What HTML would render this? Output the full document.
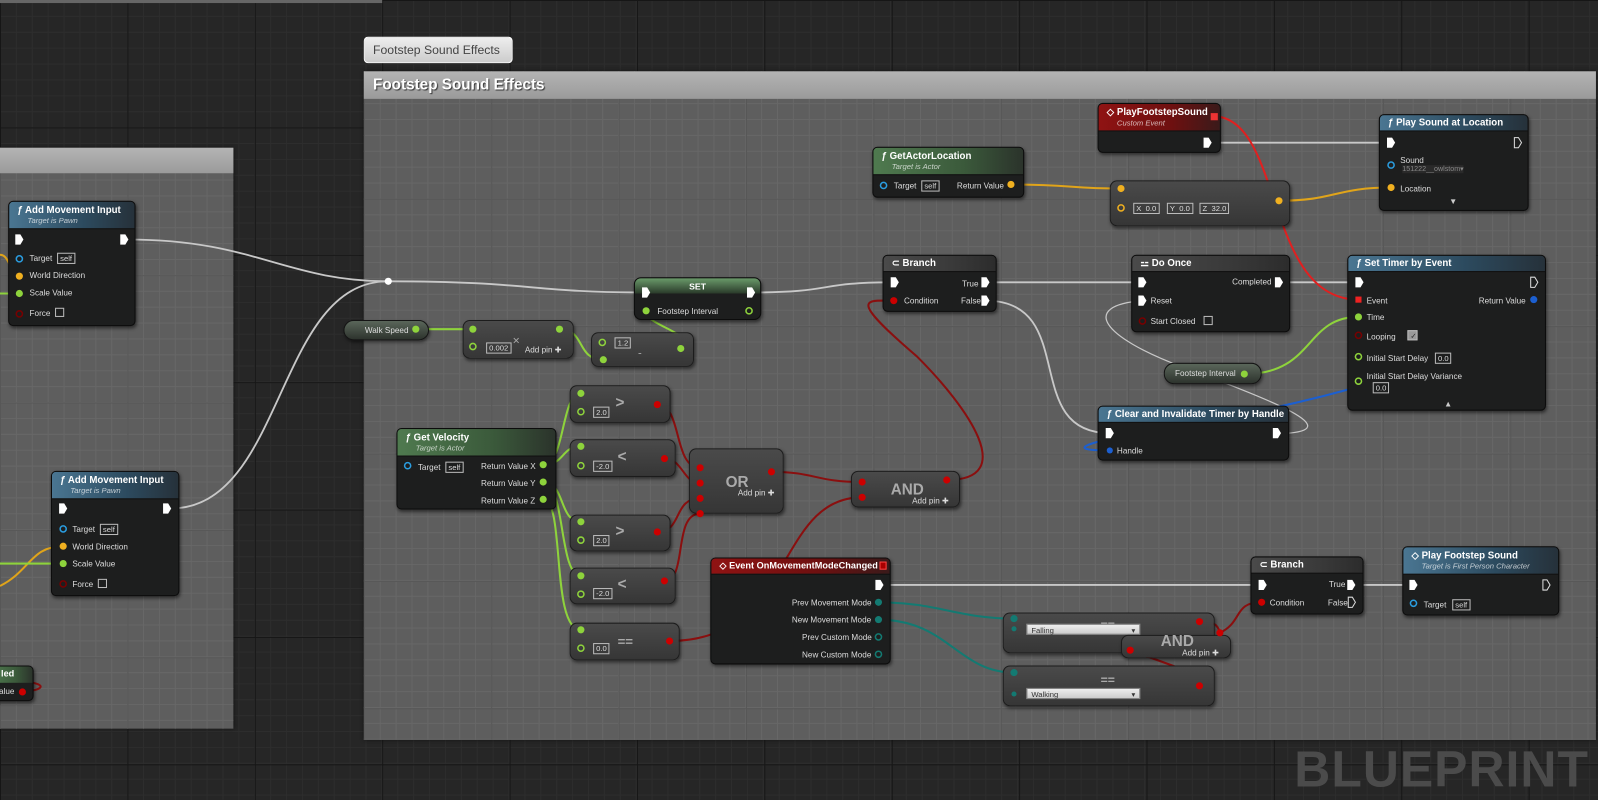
<!DOCTYPE html>
<html><head><meta charset="utf-8"><style>
*{margin:0;padding:0;box-sizing:border-box}
html,body{width:1598px;height:800px;overflow:hidden;background:#262626;font-family:"Liberation Sans",sans-serif}
#w{position:absolute;left:0;top:0;width:1568px;height:785px;transform:scale(1.0191);transform-origin:0 0;
background:
linear-gradient(90deg,#161616 1px,transparent 1px) 0 0/125px 125px,
linear-gradient(#161616 1px,transparent 1px) 0 0/125px 125px,
linear-gradient(90deg,#2d2d2d 1px,transparent 1px) 0 0/15.6px 15.6px,
linear-gradient(#2d2d2d 1px,transparent 1px) 0 0/15.6px 15.6px,#262626}
.c{position:absolute;background:
linear-gradient(90deg,#575757 1px,transparent 1px) 0 0/125px 125px,
linear-gradient(#575757 1px,transparent 1px) 0 0/125px 125px,
linear-gradient(90deg,#676767 1px,transparent 1px) 0 0/15.6px 15.6px,
linear-gradient(#676767 1px,transparent 1px) 0 0/15.6px 15.6px,#5e5e5e;box-shadow:0 0 4px #111}
.ch{position:absolute;left:0;right:0;top:0;height:25px;background:linear-gradient(#b4b4b4,#9a9a9a);color:#fff;font-weight:bold;font-size:15px;padding:4px 9px;text-shadow:1px 1px 1px #333}
.n{position:absolute;background:#1d1e1e;border:1px solid #0c0c0c;border-radius:5px;box-shadow:1px 2px 3px rgba(0,0,0,.5);color:#ddd;font-size:8px;overflow:hidden}
.h{height:27px;padding:3px 0 0 8px;color:#fff;font-size:9.5px;font-weight:bold;border-bottom:1px solid #111}
.h i{display:block;font-weight:normal;font-size:7.5px;padding-left:10px;opacity:.7}
.fb{background:linear-gradient(90deg,#4a7692,#2c4a5e 60%,#26313a)}
.fg{background:linear-gradient(90deg,#4f7a4f,#3b5a3b 60%,#2b332b)}
.fr{background:linear-gradient(90deg,#8f1313,#6e1010 60%,#3a1a1a)}
.fk{background:linear-gradient(90deg,#4a4a4a,#3a3a3a 60%,#2c2c2c)}
.g{position:absolute;background:linear-gradient(#4a4a4a,#363636);border:1px solid #1c1c1c;border-radius:7px;box-shadow:1px 2px 3px rgba(0,0,0,.5);color:#bbb}
.v{position:absolute;background:linear-gradient(#5a665a,#2d332d);border:1px solid #141414;border-radius:10px;color:#ddd;font-size:8px;padding:5px 0 0 20px;box-shadow:1px 2px 3px rgba(0,0,0,.5)}
.t{position:absolute;font-size:8px;color:#ddd;white-space:nowrap}
.b{position:absolute;border:1px solid #bbb;font-size:7.5px;color:#ddd;padding:0 2px;line-height:9px;white-space:nowrap}
.big{position:absolute;font-size:15px;font-weight:bold;color:#aaa}
.dd{position:absolute;background:linear-gradient(#eee,#ccc);color:#333;font-size:7.5px;height:11px;padding:1px 4px;border:1px solid #888}
</style></head><body><div id="w">
<div style="position:absolute;left:0;top:0;width:375px;height:3px;background:#666"></div>
<div class="c" style="left:0;top:145px;width:229px;height:570px"><div class="ch" style="height:25px"></div></div>
<div class="c" style="left:357px;top:70px;width:1209px;height:656px"><div class="ch" style="height:27px;padding-top:5px">Footstep Sound Effects</div></div>
<div style="position:absolute;left:357px;top:36px;width:146px;height:26px;background:linear-gradient(#eee,#ccc);border-radius:4px;border:1px solid #fff;color:#444;font-size:12px;padding:5px 8px">Footstep Sound Effects</div>
<div style="position:absolute;left:1270px;top:726px;font-size:50px;font-weight:bold;color:#4b4b4b;letter-spacing:1px;transform:scaleX(.98);transform-origin:0 0">BLUEPRINT</div>

<svg style="position:absolute;left:0;top:0" width="1568" height="785" fill="none" stroke-width="2">
<g stroke="#c8c8c8" stroke-width="1.8">
<path d="M125,235 C250,235 280,276 381,276"/>
<path d="M167,499 C280,499 270,276 381,276"/>
<path d="M381,276 C520,276 520,287 633,287"/>
<path d="M737,287 C820,287 800,277 877,277"/>
<path d="M967,277 L1121,277"/>
<path d="M967,295 C1060,295 1000,425 1089,425"/>
<path d="M1256,277 L1333,277"/>
<path d="M1187,140 L1365,140"/>
<path d="M863,574 L1238,574"/>
<path d="M1327,574 L1386,574"/>
<path d="M1121,295 C1060,300 1080,330 1160,360 C1240,390 1320,420 1265,425" stroke-width="1.2"/>
</g>
<g stroke="#e0a41a">
<path d="M992,181 C1050,181 1050,185 1100,185"/>
<path d="M1255,197 C1310,197 1310,184 1365,184"/>
<path d="M0,250 C10,250 10,271 19,271"/>
<path d="M0,575 C30,560 30,536 62,536"/>
</g>
<g stroke="#8ed33c">
<path d="M408,323 L464,323"/>
<path d="M549,323 C575,323 565,353 592,353"/>
<path d="M668,342 C690,330 630,318 634,305"/>
<path d="M533,456 C555,456 550,386 570,386"/>
<path d="M533,456 C555,456 550,438 570,438"/>
<path d="M533,473 C555,473 548,512 570,512"/>
<path d="M533,473 C555,473 548,565 570,565"/>
<path d="M533,490 C555,490 540,618 570,618"/>
<path d="M1221,367 C1290,367 1280,311 1333,311"/>
<path d="M0,288 L19,288"/><path d="M0,553 L62,553"/>
</g>
<g stroke="#8a0f0f">
<path d="M645,397 C670,397 660,459 687,459"/>
<path d="M652,450 C670,450 670,474 687,474"/>
<path d="M645,522 C670,522 660,489 687,489"/>
<path d="M652,570 C675,570 660,504 687,504"/>
<path d="M657,629 C780,629 760,488 846,488"/>
<path d="M757,463 C800,463 800,473 846,473"/>
<path d="M929,471 C1000,471 950,400 900,350 C830,290 850,295 877,295"/>
<path d="M1177,610 C1190,610 1195,612 1197,621"/>
<path d="M1177,673 C1210,670 1110,640 1109,638"/>
<path d="M1197,621 C1220,610 1210,591 1238,591"/>
<path d="M22,679 C60,675 30,665 0,670"/>
</g>
<path d="M1190,114 C1260,114 1240,294 1333,294" stroke="#e02020"/>
<path d="M1505,294 C1540,300 1420,370 1200,410 C1080,430 1030,442 1089,442" stroke="#1c5fd0"/>
<g stroke="#137a72">
<path d="M862,591 C920,591 940,607 995,607"/>
<path d="M862,608 C930,608 940,660 995,660"/>
</g>
</svg>

<div class="n" style="left:8px;top:197px;width:125px;height:123px"><div class="h fb">ƒ Add Movement Input<i>Target is Pawn</i></div>
<span class="t" style="left:20px;top:51px">Target</span><span class="b" style="left:47px;top:50px">self</span>
<span class="t" style="left:20px;top:68px">World Direction</span><span class="t" style="left:20px;top:85px">Scale Value</span><span class="t" style="left:20px;top:105px">Force</span><span class="b" style="left:45px;top:104px;width:9px;height:9px"></span></div>
<div class="n" style="left:50px;top:462px;width:126px;height:123px"><div class="h fb">ƒ Add Movement Input<i>Target is Pawn</i></div>
<span class="t" style="left:20px;top:52px">Target</span><span class="b" style="left:47px;top:51px">self</span>
<span class="t" style="left:20px;top:69px">World Direction</span><span class="t" style="left:20px;top:86px">Scale Value</span><span class="t" style="left:20px;top:106px">Force</span><span class="b" style="left:45px;top:105px;width:9px;height:9px"></span></div>
<div class="n" style="left:-10px;top:653px;width:43px;height:35px"><div class="fg" style="height:16px;color:#fff;font-weight:bold;font-size:9px;padding:2px 0 0 10px">led</div><span class="t" style="left:8px;top:20px">alue</span></div>

<div class="v" style="left:337px;top:314px;width:84px;height:20px">Walk Speed</div>
<div class="g" style="left:454px;top:314px;width:109px;height:38px"><span class="b" style="left:22px;top:21px">0.002</span><span class="t" style="left:48px;top:12px;font-size:12px;color:#aaa">×</span><span class="t" style="left:60px;top:24px">Add pin ✚</span></div>
<div class="g" style="left:580px;top:326px;width:101px;height:34px"><span class="b" style="left:22px;top:4px">1.2</span><span class="t" style="left:45px;top:14px;font-size:11px;color:#aaa">-</span></div>
<div class="n" style="left:622px;top:272px;width:125px;height:42px;border-radius:7px"><div style="height:15px;background:linear-gradient(#6a9a6a,#2a3a2a);color:#fff;font-weight:bold;font-size:8.5px;text-align:center;padding-top:3px">SET</div><span class="t" style="left:22px;top:28px">Footstep Interval</span></div>
<div class="n" style="left:389px;top:420px;width:157px;height:80px"><div class="h fg">ƒ Get Velocity<i>Target is Actor</i></div>
<span class="t" style="left:20px;top:33px">Target</span><span class="b" style="left:47px;top:32px">self</span>
<span class="t" style="left:82px;top:32px">Return Value X</span><span class="t" style="left:82px;top:49px">Return Value Y</span><span class="t" style="left:82px;top:66px">Return Value Z</span></div>
<div class="g" style="left:559px;top:378px;width:99px;height:37px"><span class="b" style="left:22px;top:20px">2.0</span><span class="big" style="left:44px;top:8px">&gt;</span></div>
<div class="g" style="left:559px;top:431px;width:104px;height:37px"><span class="b" style="left:22px;top:20px">-2.0</span><span class="big" style="left:46px;top:8px">&lt;</span></div>
<div class="g" style="left:559px;top:505px;width:99px;height:36px"><span class="b" style="left:22px;top:19px">2.0</span><span class="big" style="left:44px;top:7px">&gt;</span></div>
<div class="g" style="left:559px;top:557px;width:104px;height:36px"><span class="b" style="left:22px;top:19px">-2.0</span><span class="big" style="left:46px;top:7px">&lt;</span></div>
<div class="g" style="left:559px;top:611px;width:108px;height:37px"><span class="b" style="left:22px;top:19px">0.0</span><span class="big" style="left:46px;top:10px;font-size:13px">==</span></div>
<div class="g" style="left:676px;top:440px;width:93px;height:64px"><span class="big" style="left:35px;top:24px">OR</span><span class="t" style="left:47px;top:38px">Add pin ✚</span></div>
<div class="g" style="left:835px;top:462px;width:107px;height:36px"><span class="big" style="left:38px;top:9px">AND</span><span class="t" style="left:59px;top:24px">Add pin ✚</span></div>
<div class="n" style="left:697px;top:547px;width:177px;height:105px"><div class="h fr" style="height:16px;padding-top:2px;font-size:9px">◇ Event OnMovementModeChanged <span style="position:absolute;right:3px;top:3px;width:7px;height:8px;border:1px solid #f44;background:#a00"></span></div>
<span class="t" style="left:79px;top:39px">Prev Movement Mode</span><span class="t" style="left:79px;top:56px">New Movement Mode</span><span class="t" style="left:89px;top:73px">Prev Custom Mode</span><span class="t" style="left:89px;top:90px">New Custom Mode</span></div>

<div class="n" style="left:866px;top:250px;width:112px;height:56px"><div class="h fk" style="height:16px;padding-top:2px">⊂ Branch</div><span class="t" style="left:20px;top:40px">Condition</span><span class="t" style="left:77px;top:23px">True</span><span class="t" style="left:76px;top:40px">False</span></div>
<div class="n" style="left:856px;top:144px;width:149px;height:50px"><div class="h fg">ƒ GetActorLocation<i>Target is Actor</i></div><span class="t" style="left:20px;top:33px">Target</span><span class="b" style="left:47px;top:32px">self</span><span class="t" style="left:82px;top:33px">Return Value</span></div>
<div class="n" style="left:1077px;top:101px;width:121px;height:49px"><div class="h fr">◇ PlayFootstepSound<i>Custom Event</i></div><span style="position:absolute;left:110px;top:9px;width:7px;height:7px;background:#e33"></span></div>
<div class="g" style="left:1089px;top:177px;width:177px;height:45px"><span class="b" style="left:22px;top:21px">X&nbsp; 0.0</span><span class="b" style="left:55px;top:21px">Y&nbsp; 0.0</span><span class="b" style="left:87px;top:21px">Z&nbsp; 32.0</span></div>
<div class="n" style="left:1353px;top:112px;width:147px;height:95px"><div class="h fb" style="height:16px;padding-top:2px">ƒ Play Sound at Location</div><span class="t" style="left:20px;top:40px">Sound</span><span class="t" style="left:22px;top:49px;background:#2a2a2a;color:#888;font-size:7px">151222__owlstom▾</span><span class="t" style="left:20px;top:68px">Location</span><span class="t" style="left:68px;top:80px;color:#ccc">▼</span></div>
<div class="n" style="left:1110px;top:250px;width:156px;height:76px"><div class="h fk" style="height:16px;padding-top:2px">⚍ Do Once</div><span class="t" style="left:98px;top:21px">Completed</span><span class="t" style="left:18px;top:40px">Reset</span><span class="t" style="left:18px;top:60px">Start Closed</span><span class="b" style="left:70px;top:59px;width:9px;height:9px"></span></div>
<div class="n" style="left:1322px;top:250px;width:195px;height:153px"><div class="h fb" style="height:16px;padding-top:2px">ƒ Set Timer by Event</div>
<span class="t" style="left:18px;top:40px">Event</span><span class="t" style="left:128px;top:40px">Return Value</span><span class="t" style="left:18px;top:56px">Time</span><span class="t" style="left:18px;top:75px">Looping</span><span class="b" style="left:58px;top:73px;width:10px;height:10px;background:#999;color:#222">✓</span>
<span class="t" style="left:18px;top:96px">Initial Start Delay</span><span class="b" style="left:85px;top:95px">0.0</span><span class="t" style="left:18px;top:114px">Initial Start Delay Variance</span><span class="b" style="left:24px;top:124px">0.0</span><span class="t" style="left:94px;top:141px;color:#ccc">▲</span></div>
<div class="v" style="left:1142px;top:356px;width:96px;height:21px;padding-left:10px">Footstep Interval</div>
<div class="n" style="left:1077px;top:398px;width:188px;height:54px"><div class="h fb" style="height:16px;padding-top:2px">ƒ Clear and Invalidate Timer by Handle</div><span class="t" style="left:18px;top:39px">Handle</span></div>
<div class="g" style="left:984px;top:601px;width:208px;height:40px"><span class="big" style="left:95px;top:4px;font-size:12px">==</span><div class="dd" style="left:22px;top:10px;width:112px">Falling<span style="float:right">▾</span></div></div>
<div class="g" style="left:1100px;top:623px;width:108px;height:23px"><span class="big" style="left:38px;top:-3px">AND</span><span class="t" style="left:59px;top:12px">Add pin ✚</span></div>
<div class="g" style="left:984px;top:653px;width:208px;height:40px"><span class="big" style="left:95px;top:6px;font-size:12px">==</span><div class="dd" style="left:22px;top:21px;width:112px">Walking<span style="float:right">▾</span></div></div>
<div class="n" style="left:1227px;top:546px;width:111px;height:57px"><div class="h fk" style="height:16px;padding-top:2px">⊂ Branch</div><span class="t" style="left:18px;top:40px">Condition</span><span class="t" style="left:76px;top:22px">True</span><span class="t" style="left:75px;top:40px">False</span></div>
<div class="n" style="left:1376px;top:536px;width:154px;height:68px"><div class="h fb">◇ Play Footstep Sound<i>Target is First Person Character</i></div><span class="t" style="left:20px;top:52px">Target</span><span class="b" style="left:48px;top:51px">self</span></div>

<svg style="position:absolute;left:0;top:0" width="1568" height="785">
<g fill="#fff">
<path d="M15,230h5l3,5l-3,5h-5z"/><path d="M118,230h5l3,5l-3,5h-5z"/>
<path d="M58,494h5l3,5l-3,5h-5z"/><path d="M160,494h5l3,5l-3,5h-5z"/>
<path d="M630,282h5l3,5l-3,5h-5z"/><path d="M733,282h5l3,5l-3,5h-5z"/>
<path d="M874,272h5l3,5l-3,5h-5z"/><path d="M963,272h5l3,5l-3,5h-5z"/><path d="M963,290h5l3,5l-3,5h-5z"/>
<path d="M1181,135h5l3,5l-3,5h-5z"/><path d="M1361,135h5l3,5l-3,5h-5z"/>
<path d="M1117,272h5l3,5l-3,5h-5z"/><path d="M1117,290h5l3,5l-3,5h-5z"/><path d="M1251,272h5l3,5l-3,5h-5z"/>
<path d="M1330,272h5l3,5l-3,5h-5z"/><path d="M1085,420h5l3,5l-3,5h-5z"/><path d="M1249,420h5l3,5l-3,5h-5z"/>
<path d="M859,569h5l3,5l-3,5h-5z"/><path d="M1235,569h5l3,5l-3,5h-5z"/><path d="M1322,569h5l3,5l-3,5h-5z"/><path d="M1383,569h5l3,5l-3,5h-5z"/>
<circle cx="381" cy="276" r="3.5"/>
</g>
<g fill="none" stroke="#ddd"><path d="M1486,135h4l3,5l-3,5h-4z"/><path d="M1502,272h4l3,5l-3,5h-4z"/><path d="M1323,586h4l3,5l-3,5h-4z"/><path d="M1514,569h4l3,5l-3,5h-4z"/></g>
<g fill="#8ed33c"><circle cx="408" cy="323" r="3.5"/><circle cx="464" cy="323" r="3.5"/><circle cx="549" cy="323" r="3.5"/><circle cx="592" cy="353" r="3.5"/><circle cx="668" cy="342" r="3.5"/><circle cx="634" cy="305" r="3.5"/>
<circle cx="533" cy="456" r="3.5"/><circle cx="533" cy="473" r="3.5"/><circle cx="533" cy="490" r="3.5"/>
<circle cx="570" cy="386" r="3.5"/><circle cx="570" cy="438" r="3.5"/><circle cx="570" cy="512" r="3.5"/><circle cx="570" cy="565" r="3.5"/><circle cx="570" cy="618" r="3.5"/>
<circle cx="1221" cy="367" r="3.5"/><circle cx="1333" cy="311" r="3.5"/><circle cx="19" cy="288" r="3.5"/><circle cx="62" cy="553" r="3.5"/></g>
<g fill="none" stroke="#8ed33c" stroke-width="1.5"><circle cx="464" cy="340" r="3"/><circle cx="591" cy="336" r="3"/><circle cx="735" cy="305" r="3"/><circle cx="570" cy="404" r="3"/><circle cx="570" cy="457" r="3"/><circle cx="570" cy="530" r="3"/><circle cx="570" cy="583" r="3"/><circle cx="570" cy="636" r="3"/><circle cx="1333" cy="350" r="3"/><circle cx="1333" cy="374" r="3"/></g>
<g fill="#c00"><circle cx="645" cy="397" r="3.5"/><circle cx="652" cy="450" r="3.5"/><circle cx="645" cy="522" r="3.5"/><circle cx="652" cy="570" r="3.5"/><circle cx="657" cy="629" r="3.5"/>
<circle cx="687" cy="459" r="3.5"/><circle cx="687" cy="474" r="3.5"/><circle cx="687" cy="489" r="3.5"/><circle cx="687" cy="504" r="3.5"/><circle cx="757" cy="463" r="3.5"/>
<circle cx="846" cy="473" r="3.5"/><circle cx="846" cy="488" r="3.5"/><circle cx="929" cy="471" r="3.5"/><circle cx="877" cy="295" r="3.5"/>
<circle cx="1177" cy="610" r="3.5"/><circle cx="1177" cy="673" r="3.5"/><circle cx="1197" cy="621" r="3.5"/><circle cx="1109" cy="638" r="3.5"/><circle cx="1238" cy="591" r="3.5"/><circle cx="22" cy="679" r="3.5"/></g>
<g fill="none" stroke="#700" stroke-width="1.5"><circle cx="19" cy="308" r="3"/><circle cx="62" cy="573" r="3"/><circle cx="1121" cy="315" r="3"/><circle cx="1333" cy="329" r="3"/></g>
<rect x="1330" y="291" width="6" height="6" fill="#e22"/>
<g fill="#f0b020"><circle cx="992" cy="181" r="3.5"/><circle cx="1100" cy="185" r="3.5"/><circle cx="1255" cy="197" r="3.5"/><circle cx="1365" cy="184" r="3.5"/><circle cx="19" cy="271" r="3.5"/><circle cx="62" cy="536" r="3.5"/></g>
<circle cx="1100" cy="204" r="3" fill="none" stroke="#f0b020" stroke-width="1.5"/>
<g fill="none" stroke="#2a9de0" stroke-width="1.5"><circle cx="19" cy="254" r="3"/><circle cx="62" cy="519" r="3"/><circle cx="400" cy="457" r="3"/><circle cx="867" cy="182" r="3"/><circle cx="1365" cy="162" r="3"/><circle cx="1387" cy="592" r="3"/></g>
<g fill="#1c5fd0"><circle cx="1505" cy="294" r="3.5"/><circle cx="1089" cy="442" r="3"/></g>
<g fill="#137a72"><circle cx="862" cy="591" r="3.5"/><circle cx="862" cy="608" r="3.5"/><circle cx="995" cy="607" r="3.5"/><circle cx="995" cy="660" r="3.5"/><circle cx="995" cy="617" r="2.5"/><circle cx="995" cy="681" r="2.5"/></g>
<g fill="none" stroke="#137a72" stroke-width="1.5"><circle cx="862" cy="625" r="3"/><circle cx="862" cy="642" r="3"/></g>
</svg>
</div></body></html>
